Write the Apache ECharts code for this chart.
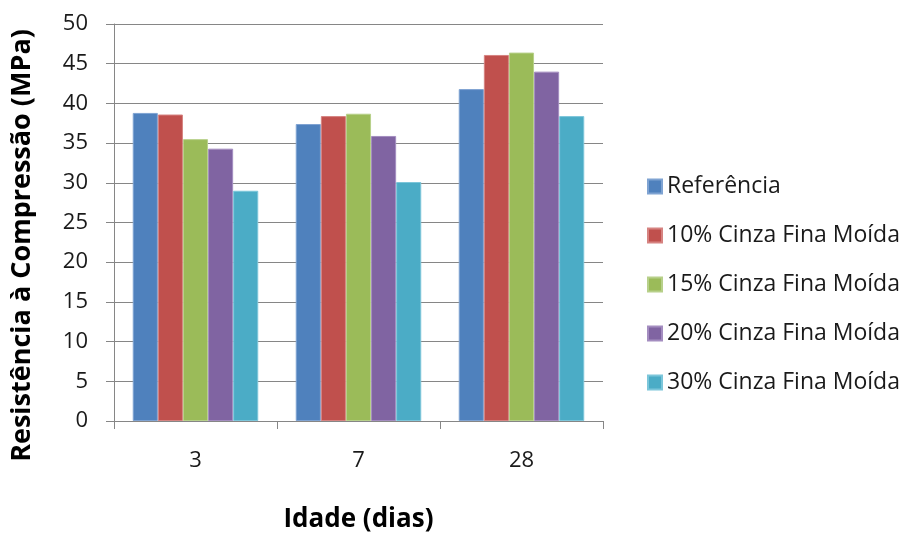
<!DOCTYPE html>
<html>
<head>
<meta charset="utf-8">
<script src="https://cdn.jsdelivr.net/npm/echarts@6/dist/echarts.min.js"></script>
<style>
  html, body { margin: 0; padding: 0; background: #fff; }
  #chart { width: 906px; height: 534px; }
</style>
</head>
<body>
<div id="chart"></div>
<script>
// Idade dos corpos de prova (dias)
const idades = ['3', '7', '28'];

// Resistência à compressão (MPa) por mistura
const referencia = [38.8, 37.4, 41.8];
const cinza10 = [38.6, 38.4, 46.1];
const cinza15 = [35.5, 38.7, 46.4];
const cinza20 = [34.3, 35.9, 44.0];
const cinza30 = [29.0, 30.1, 38.4];

const nomesSeries = [
  'Referência',
  '10% Cinza Fina Moída',
  '15% Cinza Fina Moída',
  '20% Cinza Fina Moída',
  '30% Cinza Fina Moída'
];
const valoresSeries = [referencia, cinza10, cinza15, cinza20, cinza30];
const cores = ['#4F81BD', '#C0504D', '#9BBB59', '#8064A2', '#4BACC6'];
const bordas = ['#7FA3D2', '#D68381', '#B7D08A', '#A48DC0', '#7CC6DA'];

const fonte = '"Open Sans", "Noto Sans", sans-serif';
const corEixo = '#868686';

const chart = echarts.init(document.getElementById('chart'), null, { renderer: 'canvas' });

chart.setOption({
  animation: false,
  backgroundColor: '#ffffff',
  color: cores,
  textStyle: { fontFamily: fonte },
  grid: {
    left: 114, right: 303, top: 24, bottom: 113,
    containLabel: false,
    outerBoundsMode: 'none'
  },
  legend: {
    orient: 'vertical',
    left: 642,
    top: 170,
    itemWidth: 14,
    itemHeight: 14,
    itemGap: 26,
    icon: 'rect',
    data: nomesSeries,
    textStyle: { fontFamily: fonte, fontSize: 23, color: '#1a1a1a' }
  },
  xAxis: {
    type: 'category',
    data: idades,
    name: 'Idade (dias)',
    nameLocation: 'middle',
    nameGap: 86,
    nameTextStyle: { fontFamily: fonte, fontSize: 26, fontWeight: 'bold', color: '#000' },
    axisLine: { show: true, lineStyle: { color: corEixo, width: 1 } },
    axisTick: { show: true, length: 8, alignWithLabel: false, lineStyle: { color: corEixo } },
    axisLabel: { margin: 29, fontSize: 22, color: '#1a1a1a', fontFamily: fonte },
    splitLine: { show: false }
  },
  yAxis: {
    type: 'value',
    min: 0,
    max: 50,
    interval: 5,
    name: 'Resistência à Compressão (MPa)',
    nameLocation: 'middle',
    nameGap: 78,
    nameRotate: 90,
    nameTextStyle: {
      fontFamily: fonte, fontSize: 27, fontWeight: 'bold', color: '#000',
      padding: [0, 46, 0, 0]
    },
    axisLine: { show: true, lineStyle: { color: corEixo, width: 1 } },
    axisTick: { show: true, length: 8, lineStyle: { color: corEixo } },
    axisLabel: { margin: 26, fontSize: 22, color: '#1a1a1a', fontFamily: fonte },
    splitLine: { show: true, lineStyle: { color: corEixo, width: 1 } }
  },
  series: nomesSeries.map((nome, i) => ({
    name: nome,
    type: 'bar',
    data: valoresSeries[i],
    barGap: '0%',
    barCategoryGap: '23%',
    itemStyle: { color: cores[i], borderColor: bordas[i], borderWidth: 1 }
  }))
});
</script>
</body>
</html>
